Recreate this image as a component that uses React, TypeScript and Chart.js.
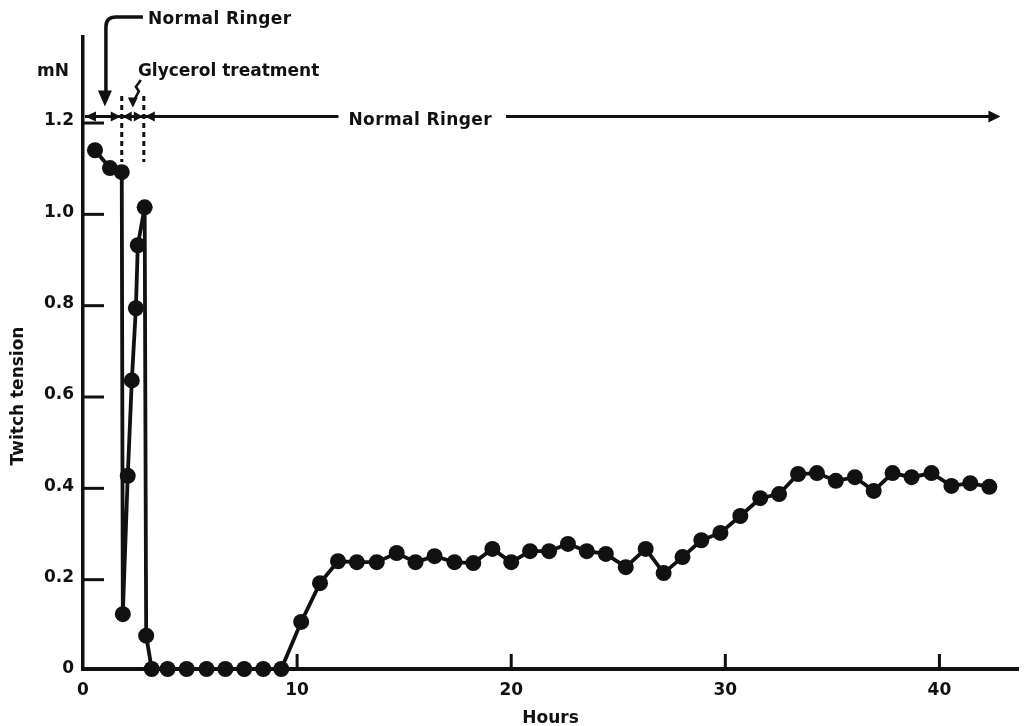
import React, { useEffect, useRef } from "react";
import { Chart, registerables } from "chart.js";

Chart.register(...registerables);

// ---- data ----
const hours = [
  0.56, 1.26, 1.81, 1.86, 2.09, 2.28, 2.47, 2.56, 2.88, 2.95,
  3.21, 3.95, 4.84, 5.77, 6.65, 7.53, 8.42, 9.26,
  10.19, 11.07, 11.91, 12.79, 13.72, 14.65, 15.53, 16.42, 17.35, 18.23,
  19.12, 20.0, 20.88, 21.77, 22.65, 23.53, 24.42, 25.35, 26.28, 27.12,
  28.0, 28.88, 29.77, 30.7, 31.63, 32.51, 33.4, 34.28, 35.16, 36.05,
  36.93, 37.81, 38.7, 39.63, 40.56, 41.44, 42.33,
];
const tension = [
  1.136, 1.097, 1.088, 0.12, 0.423, 0.632, 0.79, 0.928, 1.011, 0.073,
  0, 0, 0, 0, 0, 0, 0, 0,
  0.103, 0.188, 0.236, 0.234, 0.234, 0.254, 0.234, 0.247, 0.234, 0.232,
  0.263, 0.234, 0.258, 0.258, 0.274, 0.258, 0.252, 0.223, 0.263, 0.21,
  0.245, 0.282, 0.298, 0.335, 0.374, 0.383, 0.427, 0.429, 0.412, 0.42,
  0.39, 0.429, 0.42, 0.429, 0.401, 0.407, 0.399,
];
const xTickValues = [0, 10, 20, 30, 40];
const yTickValues = [0, 0.2, 0.4, 0.6, 0.8, 1.0, 1.2];
const xMax = 43.67;
const yMax = 1.384;

const xTitle = "Hours";
const yTitle = "Twitch tension";
const yUnit = "mN";
const topRingerLabel = "Normal Ringer";
const glycerolLabel = "Glycerol treatment";
const mainRingerLabel = "Normal Ringer";

// phase markers (hours / mN)
const treatmentStart = 1.81;
const treatmentEnd = 2.84;
const phaseLineLevel = 1.21;
const phaseLineEnd = 42.85;
const ringerArrowAt = 1.07;
const glycerolArrowAt = 2.33;

const FONT = "'DejaVu Sans', sans-serif";
const INK = "#111";

const annotations = {
  id: "annotations",
  afterDatasetsDraw(chart: any) {
    const ctx = chart.ctx as CanvasRenderingContext2D;
    const xs = chart.scales.x;
    const ys = chart.scales.y;
    const X = (v: number) => xs.getPixelForValue(v);
    const Y = (v: number) => ys.getPixelForValue(v);
    ctx.save();
    ctx.strokeStyle = INK;
    ctx.fillStyle = INK;
    ctx.lineCap = "butt";

    // inner tick marks
    ctx.lineWidth = 3;
    yTickValues.forEach((v) => {
      if (v === 0) return;
      ctx.beginPath();
      ctx.moveTo(X(0), Y(v) + 2);
      ctx.lineTo(X(0) + 21, Y(v) + 2);
      ctx.stroke();
    });
    xTickValues.forEach((v) => {
      if (v === 0) return;
      ctx.beginPath();
      ctx.moveTo(X(v), Y(0));
      ctx.lineTo(X(v), Y(0) - 15);
      ctx.stroke();
    });

    const arrowHead = (tipX: number, tipY: number, dir: "l" | "r" | "d", len: number, half: number) => {
      ctx.beginPath();
      if (dir === "l") {
        ctx.moveTo(tipX, tipY);
        ctx.lineTo(tipX + len, tipY - half);
        ctx.lineTo(tipX + len, tipY + half);
      } else if (dir === "r") {
        ctx.moveTo(tipX, tipY);
        ctx.lineTo(tipX - len, tipY - half);
        ctx.lineTo(tipX - len, tipY + half);
      } else {
        ctx.moveTo(tipX, tipY);
        ctx.lineTo(tipX - half, tipY - len);
        ctx.lineTo(tipX + half, tipY - len);
      }
      ctx.closePath();
      ctx.fill();
    };

    // phase line
    const py = Y(phaseLineLevel);
    const x0 = X(0) + 2;
    const xs1 = X(treatmentStart);
    const xs2 = X(treatmentEnd);
    const xEnd = X(phaseLineEnd);
    ctx.font = `bold 17px ${FONT}`;
    (ctx as any).letterSpacing = "0.4px";
    const tw = ctx.measureText(mainRingerLabel).width;
    const textLeft = X(12.4);
    ctx.lineWidth = 3;
    ctx.beginPath();
    ctx.moveTo(x0, py);
    ctx.lineTo(textLeft - 10, py);
    ctx.moveTo(textLeft + tw + 14, py);
    ctx.lineTo(xEnd - 8, py);
    ctx.stroke();
    arrowHead(x0, py, "l", 11, 5);
    arrowHead(xs1 - 1, py, "r", 10, 5);
    arrowHead(xs1 + 1, py, "l", 9, 5);
    arrowHead(xs2 - 1, py, "r", 9, 5);
    arrowHead(xs2 + 1, py, "l", 10, 5);
    arrowHead(xEnd, py, "r", 12, 6);
    ctx.textBaseline = "middle";
    ctx.textAlign = "left";
    ctx.fillText(mainRingerLabel, textLeft, py + 4);

    // dashed treatment boundaries
    ctx.lineWidth = 3;
    ctx.setLineDash([5, 4]);
    [xs1, xs2].forEach((x) => {
      ctx.beginPath();
      ctx.moveTo(x, Y(1.255));
      ctx.lineTo(x, Y(1.11));
      ctx.stroke();
    });
    ctx.setLineDash([]);

    // top "Normal Ringer" with hooked arrow
    const ax = X(ringerArrowAt);
    const topY = 17;
    ctx.lineWidth = 3.5;
    ctx.beginPath();
    ctx.moveTo(ax + 37, topY);
    ctx.lineTo(ax + 10, topY);
    ctx.quadraticCurveTo(ax, topY, ax, topY + 10);
    ctx.lineTo(ax, py - 22);
    ctx.stroke();
    arrowHead(ax - 1, py - 10, "d", 16, 7);
    ctx.fillText(topRingerLabel, ax + 42, topY + 3);

    // glycerol squiggle arrow
    const gx = X(glycerolArrowAt);
    ctx.lineWidth = 2.5;
    ctx.beginPath();
    ctx.moveTo(gx + 8, Y(1.29));
    ctx.lineTo(gx + 3, Y(1.275));
    ctx.lineTo(gx + 6, Y(1.265));
    ctx.lineTo(gx + 1, Y(1.245));
    ctx.lineTo(gx, Y(1.235));
    ctx.stroke();
    arrowHead(gx, py - 9, "d", 10, 5);
    (ctx as any).letterSpacing = "0px";
    ctx.fillText(glycerolLabel, gx + 5, Y(1.312) + 2);

    // unit
    ctx.fillText(yUnit, 37, Y(1.312) + 2);

    // y title
    ctx.save();
    ctx.translate(19, Y(0.6) + 1);
    ctx.rotate(-Math.PI / 2);
    ctx.textAlign = "center";
    ctx.fillText(yTitle, 0, 0);
    ctx.restore();

    ctx.restore();
  },
};

export default function App() {
  const ref = useRef<HTMLCanvasElement | null>(null);
  useEffect(() => {
    if (!ref.current) return;
    const points = hours.map((h, i) => ({ x: h, y: tension[i] }));
    const chart = new Chart(ref.current, {
      type: "line",
      data: {
        datasets: [
          {
            data: points,
            borderColor: INK,
            backgroundColor: INK,
            pointBackgroundColor: INK,
            pointBorderColor: INK,
            pointRadius: 8,
            pointBorderWidth: 0,
            borderWidth: 3.8,
            tension: 0,
            clip: false as any,
          },
        ],
      },
      options: {
        animation: false,
        responsive: false,
        maintainAspectRatio: false,
        events: [],
        layout: { padding: { left: 0, top: 37, right: 4, bottom: 0 } },
        plugins: { legend: { display: false }, tooltip: { enabled: false } },
        scales: {
          x: {
            type: "linear",
            min: 0,
            max: xMax,
            afterFit: (s: any) => {
              s.height = 57;
            },
            afterBuildTicks: (s: any) => {
              s.ticks = xTickValues.map((v) => ({ value: v }));
            },
            grid: { drawOnChartArea: false, drawTicks: false },
            border: { color: INK, width: 4 },
            ticks: {
              color: INK,
              font: { family: FONT, size: 17, weight: "bold" },
              padding: 11,
              maxRotation: 0,
              autoSkip: false,
              callback: (v: any) => String(v),
            },
            title: {
              display: true,
              text: xTitle,
              color: INK,
              font: { family: FONT, size: 17, weight: "bold" },
              padding: { top: 0, bottom: -3 },
            },
          },
          y: {
            type: "linear",
            min: 0,
            max: yMax,
            afterFit: (s: any) => {
              s.width = 83;
            },
            afterBuildTicks: (s: any) => {
              s.ticks = yTickValues.map((v) => ({ value: v }));
            },
            grid: { drawOnChartArea: false, drawTicks: false },
            border: { color: INK, width: 3.5 },
            ticks: {
              color: INK,
              font: { family: FONT, size: 17, weight: "bold" },
              padding: 9,
              callback: (v: any) => (v === 0 ? "0" : Number(v).toFixed(1)),
            },
          },
        },
      },
      plugins: [annotations],
    });
    return () => chart.destroy();
  }, []);

  return (
    <div style={{ position: "absolute", left: 0, top: 0, width: 1026, height: 726, background: "#fff" }}>
      <canvas ref={ref} width={1026} height={726} style={{ display: "block", width: 1026, height: 726 }} />
    </div>
  );
}
